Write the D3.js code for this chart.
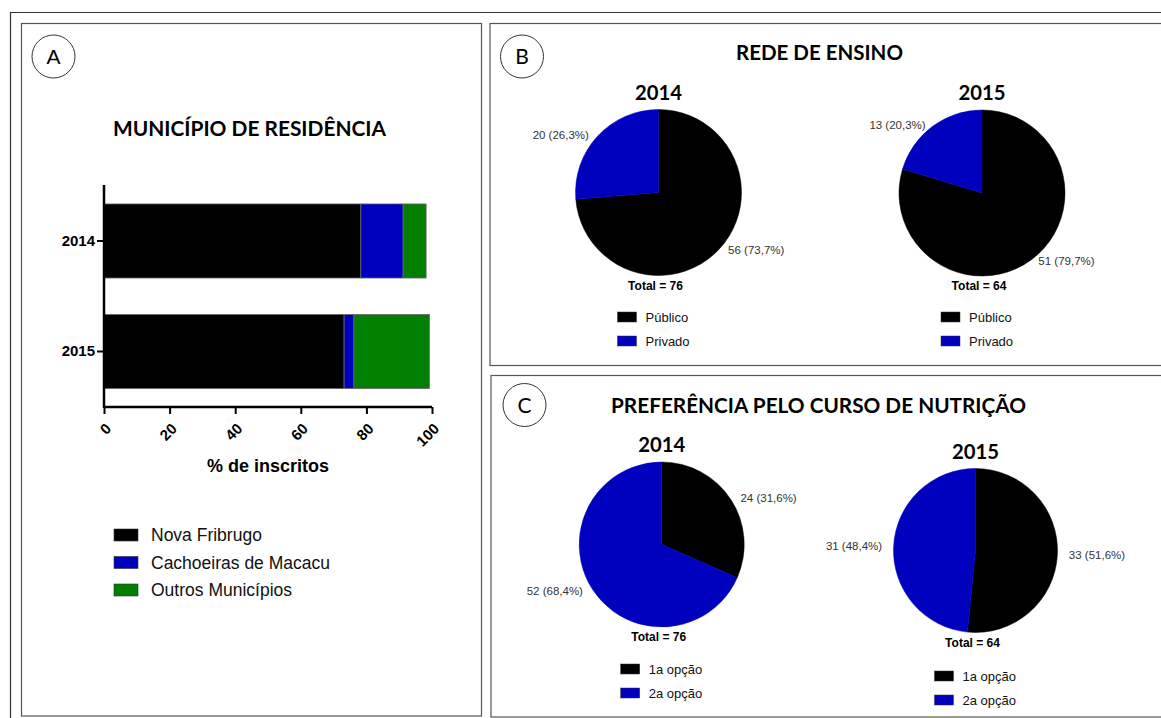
<!DOCTYPE html>
<html>
<head>
<meta charset="utf-8">
<script src="https://cdn.jsdelivr.net/npm/d3@7"></script>
<style>
  body { margin: 0; background: #fff; }
  text { font-family: "Liberation Sans", Arial, sans-serif; }
  .calibri { font-family: Lato, "Open Sans", sans-serif; font-weight: bold; }
</style>
</head>
<body>
<script>
// ---------------- data ----------------
const years = ["2014", "2015"];
const municipios = ["Nova Fribrugo", "Cachoeiras de Macacu", "Outros Municípios"];
const pctNovaFriburgo = [78.3, 73.2];
const pctCachoeiras = [12.9, 3.0];
const pctOutros = [7.0, 23.0];
const xTicks = [0, 20, 40, 60, 80, 100];

const redeCats = ["Público", "Privado"];
const rede2014 = [56, 20];
const rede2015 = [51, 13];

const prefCats = ["1a opção", "2a opção"];
const pref2014 = [24, 52];
const pref2015 = [33, 31];

const sliceColors = ["#000000", "#0000BF"];
const barColors = ["#000000", "#0000BF", "#007F00"];

// ---------------- svg ----------------
const svg = d3.select("body").append("svg")
  .attr("width", 1161)
  .attr("height", 718);

// frames
svg.append("path")
  .attr("d", "M10.5,718 V12.5 H1161")
  .attr("fill", "none").attr("stroke", "#333").attr("stroke-width", 1.2);

const panels = [
  {x: 21.5, y: 23.5, w: 460, h: 692.5},
  {x: 490, y: 23.5, w: 700, h: 342},
  {x: 491, y: 375.5, w: 700, h: 341.5}
];
svg.selectAll("rect.panel")
  .data(panels)
  .enter().append("rect")
  .attr("class", "panel")
  .attr("x", d => d.x).attr("y", d => d.y)
  .attr("width", d => d.w).attr("height", d => d.h)
  .attr("fill", "none").attr("stroke", "#555").attr("stroke-width", 1.2);

// panel letters
const letters = [
  {t: "A", cx: 53.5, cy: 56.5, font: "Liberation Sans"},
  {t: "B", cx: 522, cy: 56.5, font: "Lato"},
  {t: "C", cx: 524.5, cy: 405, font: "Lato"}
];
letters.forEach(l => {
  svg.append("circle")
    .attr("cx", l.cx).attr("cy", l.cy).attr("r", 21.5)
    .attr("fill", "none").attr("stroke", "#333").attr("stroke-width", 1);
  svg.append("text")
    .attr("x", l.cx).attr("y", l.cy + 7.5)
    .attr("text-anchor", "middle")
    .style("font-family", l.font)
    .style("font-size", "21px")
    .text(l.t);
});

//**************************************************************************
// Panel A - stacked bars

svg.append("text")
  .attr("class", "calibri")
  .attr("x", 113).attr("y", 135.5)
  .attr("textLength", 273).attr("lengthAdjust", "spacingAndGlyphs")
  .style("font-size", "20px")
  .text("MUNICÍPIO DE RESIDÊNCIA");

const xScale = d3.scaleLinear().domain([0, 100]).range([104, 432]);
const yScale = d3.scaleBand().domain(years).range([167.5, 425]).padding(0.33);

const stackData = years.map((y, i) => ({
  year: y,
  vals: [pctNovaFriburgo[i], pctCachoeiras[i], pctOutros[i]]
}));

const barG = svg.append("g").attr("id", "bars");
stackData.forEach(d => {
  let acc = 0;
  d.vals.forEach((v, k) => {
    barG.append("rect")
      .attr("x", xScale(acc))
      .attr("y", yScale(d.year))
      .attr("width", xScale(acc + v) - xScale(acc))
      .attr("height", yScale.bandwidth())
      .attr("fill", barColors[k])
      .attr("stroke", "#666").attr("stroke-width", 0.8);
    acc += v;
  });
});

// y axis
const yAxisG = svg.append("g")
  .attr("transform", "translate(104,0)")
  .call(d3.axisLeft(yScale).tickSize(7).tickPadding(2));
yAxisG.select(".domain").remove();
yAxisG.selectAll("line").attr("stroke", "#000").attr("stroke-width", 2);
yAxisG.selectAll("text")
  .style("font-family", "Liberation Sans").style("font-size", "15px")
  .style("font-weight", "bold").attr("fill", "#000");
svg.append("line")
  .attr("x1", 104).attr("x2", 104).attr("y1", 185).attr("y2", 408)
  .attr("stroke", "#000").attr("stroke-width", 2.5);

// x axis
const xAxisG = svg.append("g")
  .attr("transform", "translate(0,407)")
  .call(d3.axisBottom(xScale).tickValues(xTicks).tickSize(7));
xAxisG.select(".domain").attr("stroke", "#000").attr("stroke-width", 2.5)
  .attr("d", "M104,0H432");
xAxisG.selectAll("line").attr("stroke", "#000").attr("stroke-width", 2);
xAxisG.selectAll("text")
  .style("font-family", "Liberation Sans").style("font-size", "15px")
  .style("font-weight", "bold").attr("fill", "#000")
  .attr("text-anchor", "end")
  .attr("dy", "0.35em")
  .attr("transform", "translate(4,19) rotate(-45)")
  .attr("y", 0).attr("x", 0);

svg.append("text")
  .attr("x", 268).attr("y", 471.5)
  .attr("text-anchor", "middle")
  .style("font-size", "18px").style("font-weight", "bold")
  .text("% de inscritos");

// legend A
const legA = svg.append("g");
municipios.forEach((m, i) => {
  const yy = 535 + i * 27.5;
  legA.append("rect")
    .attr("x", 114).attr("y", yy - 6).attr("width", 24).attr("height", 12)
    .attr("fill", barColors[i]).attr("stroke", "#333").attr("stroke-width", 0.6);
  legA.append("text")
    .attr("x", 151).attr("y", yy + 6)
    .style("font-size", "17.5px").attr("fill", "#111")
    .text(m);
});

//**************************************************************************
// Panels B and C - pies

svg.append("text")
  .attr("class", "calibri")
  .attr("x", 736).attr("y", 60)
  .attr("textLength", 167).attr("lengthAdjust", "spacingAndGlyphs")
  .style("font-size", "20px")
  .text("REDE DE ENSINO");

svg.append("text")
  .attr("class", "calibri")
  .attr("x", 611).attr("y", 413)
  .attr("textLength", 415).attr("lengthAdjust", "spacingAndGlyphs")
  .style("font-size", "20px")
  .text("PREFERÊNCIA PELO CURSO DE NUTRIÇÃO");

const pie = d3.pie().sort(null).value(d => d);

function fmtPct(v) {
  return v.toFixed(1).replace(".", ",");
}

function drawPie(cfg) {
  const g = svg.append("g").attr("transform", `translate(${cfg.cx},${cfg.cy})`);
  const r = cfg.r;
  const total = d3.sum(cfg.values);
  const arc = d3.arc().innerRadius(0).outerRadius(r);
  const arcs = pie(cfg.values);

  g.selectAll("path")
    .data(arcs)
    .enter().append("path")
    .attr("d", arc)
    .attr("fill", (d, i) => sliceColors[i])
    .attr("stroke", (d, i) => sliceColors[i])
    .attr("stroke-width", 0.5);

  // value labels
  const labelArc = d3.arc().innerRadius(r * 1.14).outerRadius(r * 1.14);
  g.selectAll("text.val")
    .data(arcs)
    .enter().append("text")
    .attr("class", "val")
    .attr("x", d => labelArc.centroid(d)[0])
    .attr("y", d => labelArc.centroid(d)[1] * 0.9)
    .attr("dy", "0.35em")
    .attr("text-anchor", d => labelArc.centroid(d)[0] > 0 ? "start" : "end")
    .style("font-size", "11.5px").attr("fill", "#333")
    .text(d => `${d.data} (${fmtPct(d.data / total * 100)}%)`);

  // year
  g.append("text")
    .attr("class", "calibri")
    .attr("x", -23.5).attr("y", -r - 10)
    .attr("textLength", 47).attr("lengthAdjust", "spacingAndGlyphs")
    .style("font-size", "21px")
    .text(cfg.year);

  // total
  g.append("text")
    .attr("x", -3).attr("y", r + 14)
    .attr("text-anchor", "middle")
    .style("font-size", "12px").style("font-weight", "bold")
    .text(`Total = ${total}`);

  // legend
  cfg.cats.forEach((c, i) => {
    const yy = r + cfg.legOff + i * 24;
    g.append("rect")
      .attr("x", -41).attr("y", yy - 5).attr("width", 19).attr("height", 10)
      .attr("fill", sliceColors[i]).attr("stroke", "#333").attr("stroke-width", 0.5);
    g.append("text")
      .attr("x", -13).attr("y", yy + 4.5)
      .style("font-size", "13px").attr("fill", "#111")
      .text(c);
  });
}

drawPie({cx: 658.5, cy: 192.5, r: 83, values: rede2014, cats: redeCats, year: years[0], legOff: 41.5});
drawPie({cx: 982, cy: 193, r: 83, values: rede2015, cats: redeCats, year: years[1], legOff: 41});
drawPie({cx: 661.7, cy: 544.5, r: 82.5, values: pref2014, cats: prefCats, year: years[0], legOff: 42});
drawPie({cx: 975.5, cy: 550.5, r: 82, values: pref2015, cats: prefCats, year: years[1], legOff: 43.5});
</script>
</body>
</html>
